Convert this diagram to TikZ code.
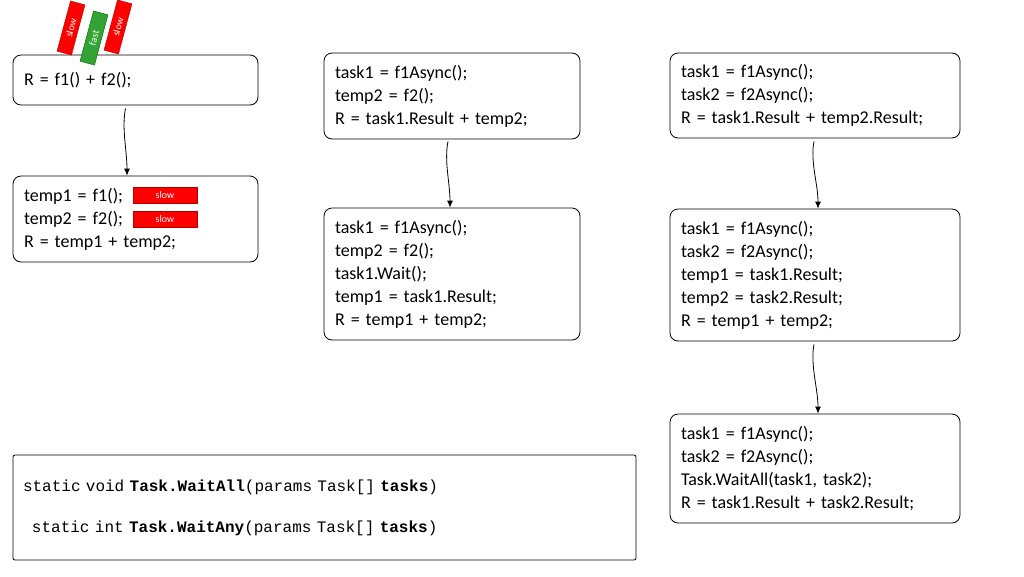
\documentclass[tikz,border=0pt]{standalone}
\usepackage{fontspec}
\setmainfont{Carlito}
\newfontfamily\codefont{Liberation Mono}
\usetikzlibrary{positioning,arrows.meta}

\tikzset{
  codebox/.style={draw, rounded corners=8pt, thick, align=left, inner sep=0pt,
    font=\fontsize{18}{23}\selectfont},
  flow/.style={thick, -{Latex[length=7pt,width=6pt]}},
  tag/.style={fill=red, draw=red!70!black, text=white, inner sep=0pt,
    font=\fontsize{10}{10}\selectfont}
}

\begin{document}
\begin{tikzpicture}[x=1pt, y=-1pt]
		\useasboundingbox (0,0) rectangle (1024,576);

		% left column
		\node[codebox, minimum width=245, minimum height=50, text width=223] (sum) at (135.5,80) {R = f1() + f2();};
		\node[codebox, minimum width=245, minimum height=86, text width=223] (seq) at (135.5,219) {temp1 = f1();\\temp2 = f2();\\R = temp1 + temp2;};
		\node[tag, minimum width=64, minimum height=16] (slowA) at (165,195) {slow};
		\node[tag, minimum width=64, minimum height=16] (slowB) at (165,219) {slow};

		% scrolls above the first box
		\node[tag, rotate=75, minimum width=52, minimum height=15] (scrollA) at (71,28) {slow};
		\node[tag, rotate=75, minimum width=52, minimum height=15, fill=green!55!black!80, draw=green!40!black] (scrollB) at (94,38) {fast};
		\node[tag, rotate=75, minimum width=52, minimum height=15] (scrollC) at (118,27) {slow};

		% middle column
		\node[codebox, minimum width=256, minimum height=86, text width=234] (oneAsync) at (452,96) {task1 = f1Async();\\temp2 = f2();\\R = task1.Result + temp2;};
		\node[codebox, minimum width=256, minimum height=132, text width=234] (oneWait) at (452,274) {task1 = f1Async();\\temp2 = f2();\\task1.Wait();\\temp1 = task1.Result;\\R = temp1 + temp2;};

		% right column
		\node[codebox, minimum width=290, minimum height=85, text width=268] (twoAsync) at (815,95.5) {task1 = f1Async();\\task2 = f2Async();\\R = task1.Result + temp2.Result;};
		\node[codebox, minimum width=290, minimum height=132, text width=268] (twoRes) at (815,275) {task1 = f1Async();\\task2 = f2Async();\\temp1 = task1.Result;\\temp2 = task2.Result;\\R = temp1 + temp2;};
		\node[codebox, minimum width=290, minimum height=109, text width=268] (waitAll) at (815,468.5) {task1 = f1Async();\\task2 = f2Async();\\Task.WaitAll(task1, task2);\\R = task1.Result + task2.Result;};

		% signatures
		\node[draw, thick, rounded corners=2pt, minimum width=623, minimum height=105, text width=603, align=left, inner sep=0pt,
		  font=\codefont\fontsize{16}{41}\selectfont] (sig) at (324.5,507.5)
		  {static void \textbf{Task.WaitAll}(params Task[] \textbf{tasks})\\
		   \hspace*{9pt}static int \textbf{Task.WaitAny}(params Task[] \textbf{tasks})};

		% arrows
		\draw[flow] (sum.south) ++(-10,3) .. controls +(-4,20) and +(0,-25) .. (seq.north -| 127,0);
		\draw[flow] (oneAsync.south) ++(-4,2) .. controls +(-4,20) and +(0,-25) .. (oneWait.north -| 450,0);
		\draw[flow] (twoAsync.south) ++(-1,3) .. controls +(-4,20) and +(0,-25) .. (twoRes.north -| 818,0);
		\draw[flow] (twoRes.south) ++(-1,3) .. controls +(-4,20) and +(0,-25) .. (waitAll.north -| 818,0);
\end{tikzpicture}
\end{document}
